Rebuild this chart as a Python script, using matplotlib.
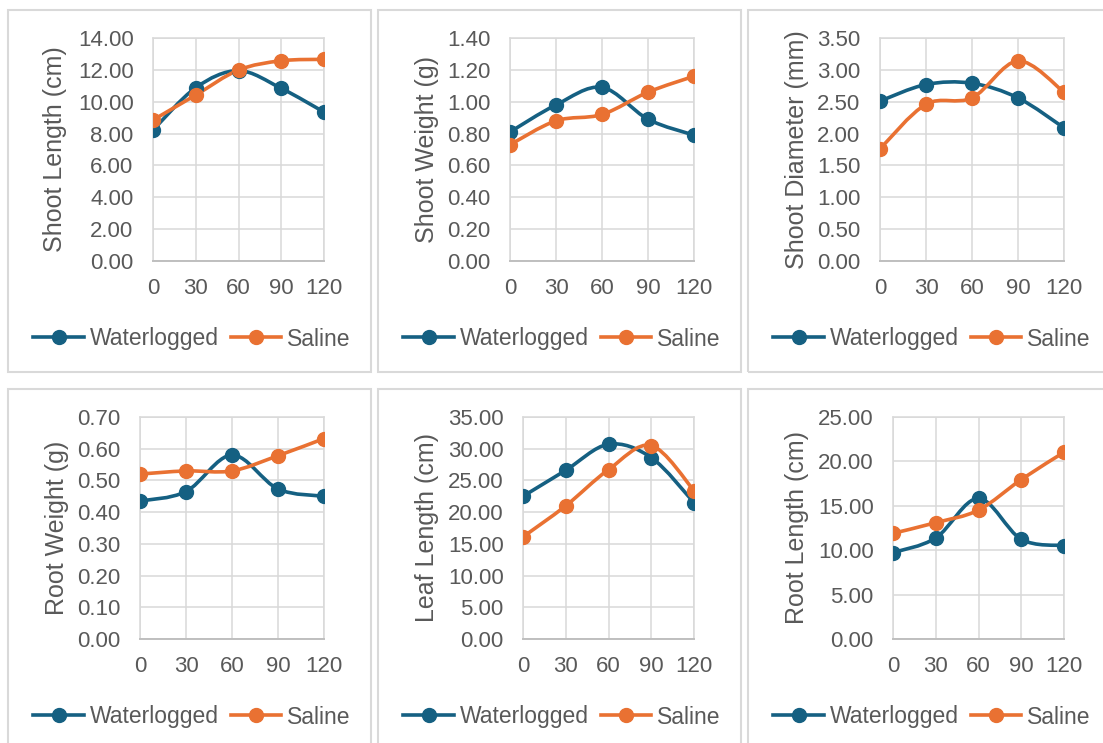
import numpy as np
import matplotlib.pyplot as plt
from matplotlib.path import Path
from matplotlib.patches import PathPatch, Rectangle
from matplotlib.lines import Line2D

plt.rcParams['font.family'] = ['Liberation Sans', 'DejaVu Sans']

# days after treatment
days = [0, 30, 60, 90, 120]

shoot_length_wl = [8.22, 10.88, 11.95, 10.84, 9.35]
shoot_length_sal = [8.85, 10.42, 11.99, 12.57, 12.66]
shoot_weight_wl = [0.81, 0.98, 1.09, 0.89, 0.79]
shoot_weight_sal = [0.73, 0.88, 0.92, 1.06, 1.16]
shoot_diam_wl = [2.51, 2.77, 2.79, 2.56, 2.09]
shoot_diam_sal = [1.76, 2.46, 2.56, 3.14, 2.65]
root_weight_wl = [0.435, 0.465, 0.580, 0.473, 0.450]
root_weight_sal = [0.520, 0.530, 0.530, 0.578, 0.632]
leaf_length_wl = [22.5, 26.6, 30.7, 28.6, 21.5]
leaf_length_sal = [16.1, 21.0, 26.7, 30.5, 23.4]
root_length_wl = [9.73, 11.38, 15.83, 11.23, 10.52]
root_length_sal = [11.90, 13.10, 14.52, 17.96, 21.03]

labels = ['Shoot Length (cm)', 'Shoot Weight (g)', 'Shoot Diameter (mm)',
          'Root Weight (g)', 'Leaf Length (cm)', 'Root Length (cm)']
wl_series = [shoot_length_wl, shoot_weight_wl, shoot_diam_wl,
             root_weight_wl, leaf_length_wl, root_length_wl]
sal_series = [shoot_length_sal, shoot_weight_sal, shoot_diam_sal,
              root_weight_sal, leaf_length_sal, root_length_sal]
ymax = [14, 1.4, 3.5, 0.7, 35, 25]
ystep = [2, 0.2, 0.5, 0.1, 5, 5]

BLUE = '#156082'
ORANGE = '#E97132'
TXT = '#595959'
GRID = '#D9D9D9'

W, H = 1103, 743

# pixel layout of the six excel charts
box_x = [8, 378, 748]
row_box_y = [(10, 372), (389, 752)]
row_plot_y = [(38, 261), (417, 639)]
plot_x = [(153, 324), (510, 694), (880, 1064),
          (140, 324), (523, 694), (893, 1064)]
ylab_x = [55, 427, 797, 57, 427, 797]
legend_y = [337, 715]


def smooth_path(x, y):
    # excel style smoothed line: bezier segments through each point
    pts = np.column_stack([x, y]).astype(float)
    n = len(pts)
    verts = [pts[0]]
    codes = [Path.MOVETO]
    for i in range(n - 1):
        p0 = pts[i - 1] if i > 0 else pts[i]
        p1 = pts[i]
        p2 = pts[i + 1]
        p3 = pts[i + 2] if i + 2 < n else pts[i + 1]
        verts += [p1 + (p2 - p0) / 6, p2 - (p3 - p1) / 6, p2]
        codes += [Path.CURVE4] * 3
    return Path(verts, codes)


fig = plt.figure(figsize=(W / 100, H / 100), dpi=100)

for k in range(6):
    row, col = divmod(k, 3)
    by0, by1 = row_box_y[row]
    fig.patches.append(Rectangle((box_x[col] / W, 1 - by1 / H),
                                 363 / W, (by1 - by0) / H,
                                 transform=fig.transFigure, fill=False,
                                 edgecolor=GRID, linewidth=1.5))
    px0, px1 = plot_x[k]
    py0, py1 = row_plot_y[row]
    ax = fig.add_axes([px0 / W, 1 - py1 / H, (px1 - px0) / W, (py1 - py0) / H])
    for vals, c in [(wl_series[k], BLUE), (sal_series[k], ORANGE)]:
        ax.add_patch(PathPatch(smooth_path(days, vals), fill=False,
                               edgecolor=c, linewidth=2.6, zorder=3,
                               capstyle='round'))
        ax.plot(days, vals, 'o', color=c, markersize=10, zorder=4)
    ax.set_xlim(0, 120)
    ax.set_ylim(0, ymax[k])
    ax.set_xticks(days)
    ax.set_yticks(np.arange(0, ymax[k] + ystep[k] / 2, ystep[k]))
    ax.yaxis.set_major_formatter(plt.FormatStrFormatter('%.2f'))
    ax.grid(True, color=GRID, linewidth=1.1)
    ax.set_axisbelow(True)
    for s in ax.spines.values():
        s.set_color(GRID)
        s.set_linewidth(1.1)
    ax.spines['bottom'].set_color('#BFBFBF')
    ax.spines['bottom'].set_linewidth(1.4)
    ax.tick_params(length=0, labelsize=16, labelcolor=TXT)
    ax.tick_params(axis='y', pad=14)
    ax.tick_params(axis='x', pad=12)
    fig.text(ylab_x[k] / W, 1 - (py0 + py1) / 2 / H, labels[k], rotation=90,
             ha='center', va='center', fontsize=18, color=TXT)

    handles = [Line2D([], [], color=BLUE, lw=2.6, marker='o', markersize=10),
               Line2D([], [], color=ORANGE, lw=2.6, marker='o', markersize=10)]
    fig.legend(handles, ['Waterlogged', 'Saline'], loc='center',
               bbox_to_anchor=((box_x[col] + 184) / W, 1 - (legend_y[row] + 2) / H),
               ncol=2, frameon=False, fontsize=16.5, labelcolor=TXT,
               handlelength=2.2, handletextpad=0.25, columnspacing=0.55,
               borderpad=0, borderaxespad=0)

fig.savefig('out.png', dpi=100, facecolor='white')
